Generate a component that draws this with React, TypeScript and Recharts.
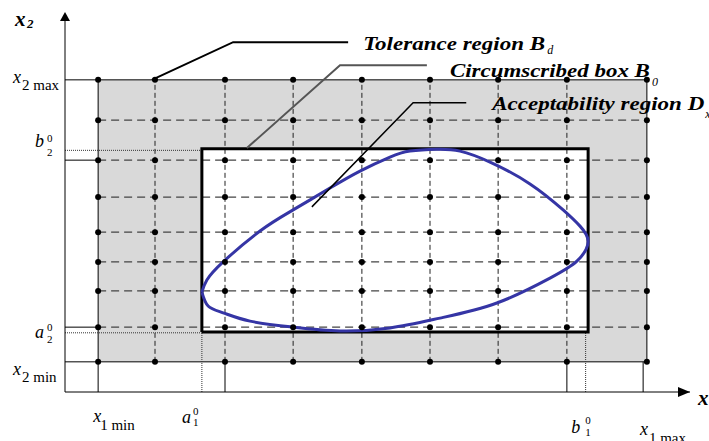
import {
  ComposedChart,
  XAxis,
  YAxis,
  Line,
  Scatter,
  ReferenceArea,
  ReferenceLine,
  ReferenceDot,
} from 'recharts';

// grid positions of the tolerance region (data units, axes run 0..100)
const gridCols = [5.3, 14.4, 25.6, 36.5, 47.5, 58.4, 69.3, 80.3, 93.1];
const gridRows = [8.0, 17.2, 26.8, 34.5, 42.4, 51.7, 61.5, 72.1, 82.8];

// circumscribed box B0
const boxX = [21.9, 83.7];
const boxY = [15.9, 64.5];

// acceptability region Dx (closed curve)
const regionX = [21.9, 22.9, 25.3, 29.6, 36.5, 44.0, 52.0, 60.0, 69.1, 77.6, 81.9, 83.7, 82.4, 79.7, 74.4, 68.0, 63.2, 59.5, 55.2, 52.0, 47.2, 42.4, 36.5, 31.2, 25.3, 22.7, 21.9];
const regionY = [26.5, 22.8, 21.0, 18.8, 17.2, 16.2, 17.0, 19.6, 23.6, 30.2, 34.7, 39.8, 44.0, 48.3, 55.2, 61.0, 63.9, 64.4, 63.9, 62.3, 58.6, 54.1, 48.3, 42.7, 34.5, 29.7, 26.5];

// tick labels
const xTickValues = [5.3, 21.9, 83.7, 93.1];
const xTickLabels = [
  { base: 'x', sub: '1 min', sup: '' },
  { base: 'a', sub: '1', sup: '0' },
  { base: 'b', sub: '1', sup: '0' },
  { base: 'x', sub: '1 max', sup: '' },
];
const yTickValues = [8.0, 15.9, 64.5, 82.8];
const yTickLabels = [
  { base: 'x', sub: '2 min', sup: '' },
  { base: 'a', sub: '2', sup: '0' },
  { base: 'b', sub: '2', sup: '0' },
  { base: 'x', sub: '2 max', sup: '' },
];

// annotation leaders
const toleranceLeaderX = [13.9, 26.9, 45.3];
const toleranceLeaderY = [82.8, 92.8, 92.8];
const boxLeaderX = [29.1, 44.0, 57.9];
const boxLeaderY = [64.7, 86.7, 86.7];
const accLeaderX = [39.5, 55.7, 64.2];
const accLeaderY = [49.1, 76.7, 76.7];
const annotationTexts = [
  { main: 'Tolerance region B', sub: 'd' },
  { main: 'Circumscribed box B', sub: '0' },
  { main: 'Acceptability region D', sub: 'x' },
];

const SERIF = "'Liberation Serif', 'DejaVu Serif', serif";

const zip = (xs: number[], ys: number[]) => xs.map((x, i) => ({ x, y: ys[i] }));

const regionData = zip(regionX, regionY);
const boxData = zip(
  [boxX[0], boxX[1], boxX[1], boxX[0], boxX[0]],
  [boxY[0], boxY[0], boxY[1], boxY[1], boxY[0]]
);
const nodes = gridCols.flatMap((x) => gridRows.map((y) => ({ x, y })));

const xMin = gridCols[0];
const xMax = gridCols[gridCols.length - 1];
const yMin = gridRows[0];
const yMax = gridRows[gridRows.length - 1];

// pixel offsets of label pieces, relative to the tick point
const xTickLayout = [
  { bx: -5, by: 30, sx: 2, sy: 38, py: 0 },
  { bx: -20, by: 31, sx: -9, sy: 34, py: 23 },
  { bx: -17, by: 41, sx: -3, sy: 44, py: 32 },
  { bx: -7, by: 43, sx: 2, sy: 51, py: 0 },
];
const yTickLayout = [
  { bx: -52, by: 13, sx: -43, sy: 20, py: 0 },
  { bx: -30, by: 6, sx: -18, sy: 11, py: -1 },
  { bx: -30, by: -2, sx: -18, sy: 7, py: -7 },
  { bx: -52, by: 3, sx: -43, sy: 10, py: 0 },
];

const txt = (size: number, extra: any = {}) => ({ fontFamily: SERIF, fontSize: size, ...extra });

function MathText({ x, y, label, layout }: any) {
  const big = label.sup === '';
  return (
    <g fill="#000">
      <text x={x + layout.bx} y={y + layout.by} style={txt(18, { fontStyle: 'italic' })}>
        {label.base}
      </text>
      <text x={x + layout.sx} y={y + layout.sy} style={txt(big ? 15 : 11)}>
        {label.sub}
      </text>
      {label.sup && (
        <text x={x + layout.sx} y={y + layout.py} style={txt(11)}>
          {label.sup}
        </text>
      )}
    </g>
  );
}

function XTick(props: any) {
  const i = xTickValues.indexOf(props.payload.value);
  if (i < 0) return null;
  return <MathText x={props.x} y={392} label={xTickLabels[i]} layout={xTickLayout[i]} />;
}

function YTick(props: any) {
  const i = yTickValues.indexOf(props.payload.value);
  if (i < 0) return null;
  return <MathText x={65} y={props.y} label={yTickLabels[i]} layout={yTickLayout[i]} />;
}

const annotationLayout = [
  { dx: 15, dy: 8, len: 182, sdx: 184, sdy: 12 },
  { dx: 23, dy: 12, len: 200, sdx: 202, sdy: 21 },
  { dx: 26, dy: 7, len: 212, sdx: 213, sdy: 15 },
];

function annotation(i: number) {
  return (p: any) => {
    const l = annotationLayout[i];
    const t = annotationTexts[i];
    return (
      <g fill="#000">
        <text
          x={p.cx + l.dx}
          y={p.cy + l.dy}
          textLength={l.len}
          lengthAdjust="spacingAndGlyphs"
          style={txt(19, { fontWeight: 'bold', fontStyle: 'italic' })}
        >
          {t.main}
        </text>
        <text x={p.cx + l.dx + l.sdx} y={p.cy + l.sdy} style={txt(12, { fontStyle: 'italic' })}>
          {t.sub}
        </text>
      </g>
    );
  };
}

function XArrow(p: any) {
  return (
    <g>
      <path d={`M${p.cx},${p.cy} L${p.cx - 12},${p.cy - 5} L${p.cx - 12},${p.cy + 5} Z`} fill="#000" />
      <text x={p.cx + 8} y={p.cy + 13} style={txt(21, { fontWeight: 'bold', fontStyle: 'italic' })}>
        x
      </text>
    </g>
  );
}

function YArrow(p: any) {
  return (
    <g>
      <path d={`M${p.cx},${p.cy - 3} L${p.cx - 5},${p.cy + 6} L${p.cx + 5},${p.cy + 6} Z`} fill="#000" />
      <text x={p.cx - 50} y={p.cy + 11} style={txt(21, { fontWeight: 'bold', fontStyle: 'italic' })}>
        x
      </text>
      <text x={p.cx - 38} y={p.cy + 13} style={txt(13, { fontWeight: 'bold', fontStyle: 'italic' })}>
        2
      </text>
    </g>
  );
}

const hDash = '8 5';
const vDash = '5 3';

export default function App() {
  return (
    <div style={{ position: 'absolute', left: 0, top: 0, background: '#fff' }}>
      <ComposedChart width={709} height={441} margin={{ top: 15, right: 19, bottom: 19, left: 5 }}>
        <XAxis
          type="number"
          dataKey="x"
          domain={[0, 100]}
          allowDataOverflow
          ticks={xTickValues}
          interval={0}
          height={30}
          tickLine={false}
          tickSize={0}
          axisLine={{ stroke: '#000', strokeWidth: 1 }}
          tick={<XTick />}
        />
        <YAxis
          type="number"
          dataKey="y"
          domain={[0, 100]}
          allowDataOverflow
          ticks={yTickValues}
          interval={0}
          width={60}
          tickLine={false}
          tickSize={0}
          axisLine={{ stroke: '#000', strokeWidth: 1 }}
          tick={<YTick />}
        />

        {/* tolerance region and the box inside it */}
        <ReferenceArea x1={xMin} x2={xMax} y1={yMin} y2={yMax} fill="#d9d9d9" fillOpacity={1} stroke="none" />
        <ReferenceArea x1={boxX[0]} x2={boxX[1]} y1={boxY[0]} y2={boxY[1]} fill="#fff" fillOpacity={1} stroke="none" />

        {/* dashed inner grid */}
        {gridCols.slice(1, -1).map((x) => (
          <ReferenceLine key={`c${x}`} segment={[{ x, y: yMin }, { x, y: yMax }]} stroke="#222" strokeDasharray={vDash} />
        ))}
        {gridRows.slice(1, -1).map((y) => (
          <ReferenceLine key={`r${y}`} segment={[{ x: xMin, y }, { x: xMax, y }]} stroke="#444" strokeWidth={1.2} strokeDasharray={hDash} />
        ))}

        {/* solid borders and ticks down to the axes */}
        <ReferenceLine segment={[{ x: 0, y: yMax }, { x: xMax, y: yMax }]} stroke="#000" />
        <ReferenceLine segment={[{ x: 0, y: yMin }, { x: xMax, y: yMin }]} stroke="#000" />
        <ReferenceLine segment={[{ x: xMin, y: 0 }, { x: xMin, y: yMax }]} stroke="#000" />
        <ReferenceLine segment={[{ x: xMax, y: yMin }, { x: xMax, y: yMax }]} stroke="#000" />
        <ReferenceLine segment={[{ x: 92.5, y: 0 }, { x: 92.5, y: yMin }]} stroke="#000" />
        <ReferenceLine segment={[{ x: gridCols[2], y: 0 }, { x: gridCols[2], y: yMin }]} stroke="#000" />
        <ReferenceLine segment={[{ x: gridCols[7], y: 0 }, { x: gridCols[7], y: yMin }]} stroke="#000" />
        <ReferenceLine segment={[{ x: 0, y: gridRows[1] }, { x: xMin, y: gridRows[1] }]} stroke="#000" />
        <ReferenceLine segment={[{ x: 0, y: gridRows[6] }, { x: xMin, y: gridRows[6] }]} stroke="#000" />

        {/* dotted projections of the box */}
        <ReferenceLine segment={[{ x: boxX[0], y: 0 }, { x: boxX[0], y: boxY[0] }]} stroke="#333" strokeDasharray="1 1" />
        <ReferenceLine segment={[{ x: boxX[1] - 0.4, y: 0 }, { x: boxX[1] - 0.4, y: boxY[0] }]} stroke="#333" strokeDasharray="1 1" />
        <ReferenceLine segment={[{ x: 0, y: boxY[0] - 0.2 }, { x: boxX[0], y: boxY[0] - 0.2 }]} stroke="#333" strokeDasharray="1 1" />
        <ReferenceLine segment={[{ x: 0, y: boxY[1] - 0.4 }, { x: boxX[0], y: boxY[1] - 0.4 }]} stroke="#333" strokeDasharray="1 1" />

        <Line data={boxData} dataKey="y" type="linear" stroke="#000" strokeWidth={3} dot={false} isAnimationActive={false} />

        <Scatter data={nodes} fill="#000" shape={(p: any) => <circle cx={p.cx} cy={p.cy} r={3} fill="#000" />} isAnimationActive={false} />

        <Line data={regionData} dataKey="y" type="natural" stroke="#3535a5" strokeWidth={3} dot={false} isAnimationActive={false} />

        <Line data={zip(toleranceLeaderX, toleranceLeaderY)} dataKey="y" type="linear" stroke="#000" strokeWidth={2} dot={false} isAnimationActive={false} />
        <Line data={zip(boxLeaderX, boxLeaderY)} dataKey="y" type="linear" stroke="#555" strokeWidth={2} dot={false} isAnimationActive={false} />
        <Line data={zip(accLeaderX, accLeaderY)} dataKey="y" type="linear" stroke="#000" strokeWidth={1.5} dot={false} isAnimationActive={false} />

        <ReferenceDot x={toleranceLeaderX[2]} y={toleranceLeaderY[2]} r={0} shape={annotation(0)} />
        <ReferenceDot x={boxLeaderX[2]} y={boxLeaderY[2]} r={0} shape={annotation(1)} />
        <ReferenceDot x={accLeaderX[2]} y={accLeaderY[2]} r={0} shape={annotation(2)} />

        <ReferenceDot x={100} y={0} r={0} shape={XArrow} />
        <ReferenceDot x={0} y={100} r={0} shape={YArrow} />
      </ComposedChart>
    </div>
  );
}
